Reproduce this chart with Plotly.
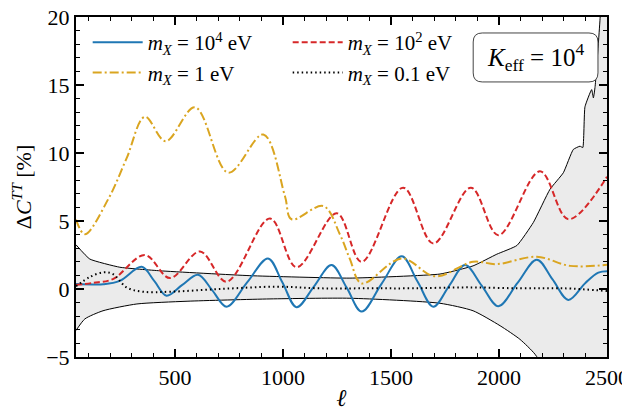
import plotly.graph_objects as go

# ---- data ----
ell_blue = [42, 120, 167, 245, 346, 404, 461, 534, 607, 673, 739, 835, 931, 997, 1063, 1144, 1225, 1295,
            1364, 1457, 1550, 1623, 1696, 1770, 1843, 1920, 1997, 2086, 2175, 2248, 2321, 2400, 2460, 2500]
val_blue = [0.37, 0.34, 0.35, 0.6, 1.63, 0.6, -0.49, 0.3, 1.05, -0.1, -1.3, 0.5, 2.25, 0.5, -1.34, 0.2, 1.76, 0.1,
            -1.66, 0.4, 2.4, 0.55, -1.3, 0.25, 1.76, 0.25, -1.27, 0.45, 2.15, 0.7, -0.8, 0.45, 1.2, 1.3]

ell_red = [42, 120, 213, 361, 477, 616, 739, 940, 1063, 1249, 1364, 1556, 1696, 1870, 1997, 2190, 2321, 2500]
val_red = [0.3, 0.45, 0.73, 2.5, 0.8, 2.76, 0.54, 5.18, 1.6, 5.57, 2.0, 7.45, 3.35, 7.45, 3.96, 8.65, 5.13, 8.25]

ell_orange = [42, 83, 191, 276, 361, 457, 593, 747, 909, 1009, 1040, 1187, 1264, 1310, 1364, 1550, 1704,
              1880, 1990, 2175, 2329, 2500]
val_orange = [5.1, 4.03, 6.6, 9.6, 12.66, 10.87, 13.36, 8.55, 11.36, 6.84, 5.13, 6.1, 4.0, 2.2, 0.41, 2.25, 0.93,
              2.0, 1.83, 2.37, 1.7, 1.78]

ell_dot = [42, 106, 168, 213, 276, 352, 477, 708, 971, 1171, 1400, 1600, 1850, 2100, 2300, 2500]
val_dot = [0.2, 0.88, 1.22, 1.1, 0.12, -0.2, -0.2, 0.0, 0.17, 0.05, 0.05, 0.05, 0.12, 0.05, 0.05, -0.15]

ell_up = [42, 106, 245, 430, 847, 1310, 1727, 1880, 1990, 2083, 2159, 2236, 2298, 2344, 2375, 2388,
          2398, 2429, 2437, 2445, 2468, 2500]
val_up = [3.25, 2.2, 1.6, 1.34, 0.98, 0.8, 1.1, 1.7, 2.56, 3.2, 4.89, 7.33, 8.55, 10.26, 10.5, 10.4,
          13.4, 14.66, 14.05, 14.9, 19.9, 30.0]

ell_lo = [42, 83, 167, 324, 556, 940, 1310, 1727, 1880, 2005, 2097, 2167, 2250, 2350, 2500]
val_lo = [-3.05, -2.2, -1.6, -1.1, -0.9, -0.73, -0.68, -1.05, -1.6, -2.7, -3.7, -4.8, -7.0, -11.0, -20.0]

labels = ["<i>m<sub>X</sub></i> = 10<sup>4</sup> eV", "<i>m<sub>X</sub></i> = 10<sup>2</sup> eV",
          "<i>m<sub>X</sub></i> = 1 eV", "<i>m<sub>X</sub></i> = 0.1 eV"]
x_ticks = [500, 1000, 1500, 2000, 2500]
y_ticks = [-5, 0, 5, 10, 15, 20]

FONT = "Liberation Serif"
BLUE, RED, ORANGE = "#1f77b4", "#d62728", "#DAA520"

fig = go.Figure()
# band
fig.add_trace(go.Scatter(x=ell_lo, y=val_lo, mode="lines", line=dict(color="black", width=1, shape="spline", smoothing=0.6),
                         showlegend=False, hoverinfo="skip"))
fig.add_trace(go.Scatter(x=ell_up, y=val_up, mode="lines", line=dict(color="black", width=1, shape="spline", smoothing=0.4),
                         fill="tonexty", fillcolor="#ebebeb", showlegend=False, hoverinfo="skip"))
# curves (legend order: row1 1e4, 1e2 ; row2 1, 0.1)
fig.add_trace(go.Scatter(x=ell_blue, y=val_blue, mode="lines", name=labels[0],
                         line=dict(color=BLUE, width=2, shape="spline")))
fig.add_trace(go.Scatter(x=ell_red, y=val_red, mode="lines", name=labels[1],
                         line=dict(color=RED, width=2, dash="6px,3px", shape="spline")))
fig.add_trace(go.Scatter(x=ell_orange, y=val_orange, mode="lines", name=labels[2],
                         line=dict(color=ORANGE, width=2, dash="9px,3px,2px,3px", shape="spline")))
fig.add_trace(go.Scatter(x=ell_dot, y=val_dot, mode="lines", name=labels[3],
                         line=dict(color="black", width=2, dash="1.5px,3px", shape="spline")))

axis_common = dict(showline=True, linecolor="black", linewidth=2, mirror="allticks",
                   ticks="inside", ticklen=8, tickwidth=1.5, tickcolor="black",
                   showgrid=False, zeroline=False, automargin=False, ticklabeloverflow="allow",
                   tickfont=dict(family=FONT, size=22, color="black"))

fig.update_xaxes(range=[42, 2500], tickvals=x_ticks, ticktext=[str(v) for v in x_ticks],
                 minor=dict(dtick=100, tick0=0, ticks="inside", ticklen=4, tickwidth=1, tickcolor="black"),
                 title=dict(text="<i>ℓ</i>", font=dict(family=FONT, size=24, color="black"), standoff=2),
                 **axis_common)
fig.update_yaxes(range=[-5, 20], tickvals=y_ticks, ticktext=["\u22125", "0", "5", "10", "15", "20"],
                 minor=dict(dtick=1, tick0=0, ticks="inside", ticklen=4, tickwidth=1, tickcolor="black"),
                 title=dict(text="Δ<i>C</i><sup><i>TT</i></sup> [%]", font=dict(family=FONT, size=22, color="black"),
                            standoff=13),
                 **axis_common)

# K_eff box (rounded)
x0, x1, y0, y1 = 0.748, 0.983, 0.809, 0.953
rx, ry = 9 / 531, 9 / 340
path = (f"M {x0+rx},{y0} L {x1-rx},{y0} Q {x1},{y0} {x1},{y0+ry} L {x1},{y1-ry} Q {x1},{y1} {x1-rx},{y1} "
        f"L {x0+rx},{y1} Q {x0},{y1} {x0},{y1-ry} L {x0},{y0+ry} Q {x0},{y0} {x0+rx},{y0} Z")
fig.add_shape(type="path", path=path, xref="paper", yref="paper", fillcolor="white",
              line=dict(color="#444444", width=1), layer="above")
fig.add_annotation(x=(x0 + x1) / 2, y=(y0 + y1) / 2, xref="paper", yref="paper", showarrow=False,
                   xanchor="center", yanchor="middle",
                   text="<i>K</i><sub>eff</sub> = 10<sup>4</sup>", font=dict(family=FONT, size=25, color="black"))

# page body adds an 8px offset; size the figure so the plot area lands where the reference has it
fig.update_layout(
    width=622, height=403,
    margin=dict(l=68, r=23, t=9, b=54),
    plot_bgcolor="white", paper_bgcolor="white",
    legend=dict(orientation="h", x=0.022, y=0.985, xanchor="left", yanchor="top", traceorder="normal",
                bgcolor="rgba(0,0,0,0)", font=dict(family=FONT, size=21, color="black"),
                entrywidth=135, itemwidth=50, tracegroupgap=0),
)

fig.write_html("out.html")
